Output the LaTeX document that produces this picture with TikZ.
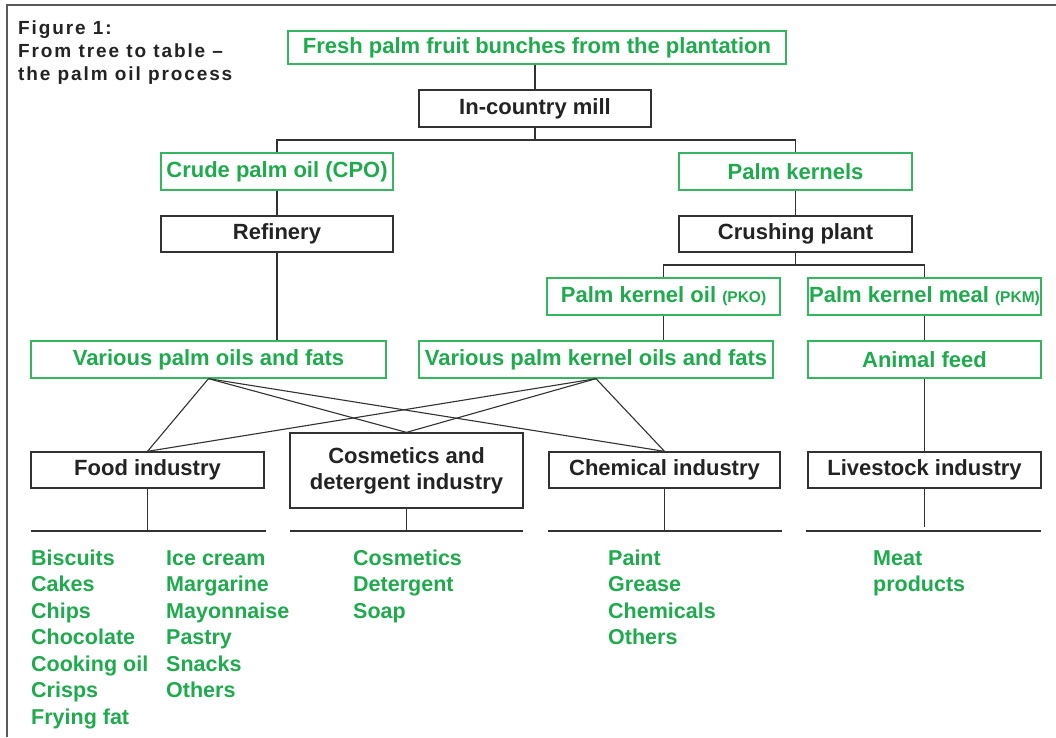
\documentclass[tikz,border=0pt]{standalone}
\usepackage{fontspec}
\setmainfont{Liberation Sans}
\newfontfamily\titlefont{Liberation Sans}[LetterSpace=10]
\definecolor{tgreen}{RGB}{32,170,78}
\definecolor{bgreen}{RGB}{52,182,96}
\definecolor{dline}{RGB}{50,50,50}
\definecolor{dtext}{RGB}{35,35,35}
\definecolor{frame}{RGB}{90,90,90}
\begin{document}
\begin{tikzpicture}[x=1pt,y=-1pt,
  boxfont/.style={font=\fontsize{22}{26}\selectfont\bfseries},
  gbox/.style={boxfont,draw=bgreen,line width=1.3pt,text=tgreen,minimum height=37pt,inner sep=0pt},
  bbox/.style={boxfont,draw=dline,line width=1.3pt,text=dtext,minimum height=36pt,inner sep=0pt},
  conn/.style={draw=dline,line width=1.3pt},
  item/.style={font=\fontsize{21.5}{26}\selectfont\bfseries,text=tgreen,inner sep=0pt,anchor=base west},
  ttl/.style={font=\titlefont\fontsize{19}{22}\selectfont\bfseries,text=dtext,inner sep=0pt,anchor=base west}]
\useasboundingbox (0,0) rectangle (1056,737);
\fill[white] (0,0) rectangle (1056,737);
% frame (cut at right and bottom)
\draw[frame,line width=2pt] (7,737) -- (7,5) -- (1056,5);
% title
\node[ttl] (t1) at (18,34) {Figure 1:};
\node[ttl] (t2) at (18,57) {From tree to table –};
\node[ttl] (t3) at (18,80) {the palm oil process};
% boxes
\node[gbox,minimum width=498pt,minimum height=33pt] (fresh) at (537,47.5) {Fresh palm fruit bunches from the plantation};
\node[bbox,minimum width=232pt,minimum height=37pt] (mill) at (535,108.5) {In-country mill};
\node[gbox,minimum width=232pt] (cpo) at (277,171.5) {Crude palm oil (CPO)};
\node[gbox,minimum width=233pt] (pk) at (795.5,171.5) {Palm kernels};
\node[bbox,minimum width=232pt] (ref) at (277,234) {Refinery};
\node[bbox,minimum width=233pt] (crush) at (795.5,234) {Crushing plant};
\node[gbox,minimum width=233pt] (pko) at (663.5,296.5) {Palm kernel oil {\fontsize{15.5}{18}\selectfont(PKO)}};
\node[gbox,minimum width=233pt] (pkm) at (924.5,296.5) {Palm kernel meal {\fontsize{15.5}{18}\selectfont(PKM)}};
\node[gbox,minimum width=355pt] (vpo) at (208.5,359.5) {Various palm oils and fats};
\node[gbox,minimum width=354pt] (vpko) at (596,359.5) {Various palm kernel oils and fats};
\node[gbox,minimum width=233pt] (feed) at (924.5,359.5) {Animal feed};
\node[bbox,minimum width=233pt] (food) at (147.5,470) {Food industry};
\node[bbox,minimum width=233pt,minimum height=75pt,align=center] (cosm) at (406.5,470.5) {Cosmetics and\\detergent industry};
\node[bbox,minimum width=231pt] (chem) at (664.5,470) {Chemical industry};
\node[bbox,minimum width=233pt] (live) at (924.5,470) {Livestock industry};
% junctions
\coordinate (j1) at (535,140);
\coordinate (j2) at (795.5,265);
% connectors
\draw[conn] (fresh.south -| mill.north) -- (mill.north);
\draw[conn] (mill.south) -- (j1);
\draw[conn] (cpo.north) |- (j1) -| (pk.north);
\draw[conn] (cpo.south) -- (ref.north);
\draw[conn] (pk.south) -- (crush.north);
\draw[conn] (ref.south) -- (ref.south |- vpo.north);
\draw[conn] (crush.south) -- (j2);
\draw[conn] (pko.north) |- (j2) -| (pkm.north);
\draw[conn] (pko.south) -- (pko.south |- vpko.north);
\draw[conn] (pkm.south) -- (feed.north);
\draw[conn] (feed.south) -- (live.north);
\foreach \s in {vpo,vpko}{
  \foreach \t in {food,cosm,chem}{
    \draw[conn,line width=1.1pt] (\s.south) -- (\t.north);
  }
}
% bottom bars
\coordinate (fbl) at (31,531);   \coordinate (fbr) at (266,531);
\coordinate (cbl) at (290,531);  \coordinate (cbr) at (523,531);
\coordinate (hbl) at (548,531);  \coordinate (hbr) at (782,531);
\coordinate (lbl) at (806,531);  \coordinate (lbr) at (1041,531);
\draw[conn] (fbl) -- (fbr);
\draw[conn] (cbl) -- (cbr);
\draw[conn] (hbl) -- (hbr);
\draw[conn] (lbl) -- (lbr);
\draw[conn] (food.south) -- (food.south |- fbl);
\draw[conn] (cosm.south) -- (cosm.south |- cbl);
\draw[conn] (chem.south) -- (chem.south |- hbl);
\draw[conn] (live.south) -- ([yshift=4pt]live.south |- lbl);
% product lists
\foreach \t [count=\i] in {Biscuits,Cakes,Chips,Chocolate,Cooking oil,Crisps,Frying fat}
  \node[item] (fa\i) at ({31},{565+26.5*(\i-1)}) {\t};
\foreach \t [count=\i] in {Ice cream,Margarine,Mayonnaise,Pastry,Snacks,Others}
  \node[item] (fb\i) at ({166},{565+26.5*(\i-1)}) {\t};
\foreach \t [count=\i] in {Cosmetics,Detergent,Soap}
  \node[item] (ca\i) at ({353},{565+26.5*(\i-1)}) {\t};
\foreach \t [count=\i] in {Paint,Grease,Chemicals,Others}
  \node[item] (ha\i) at ({608},{565+26.5*(\i-1)}) {\t};
\foreach \t [count=\i] in {Meat,products}
  \node[item] (la\i) at ({873},{565+26.5*(\i-1)}) {\t};
\end{tikzpicture}
\end{document}
